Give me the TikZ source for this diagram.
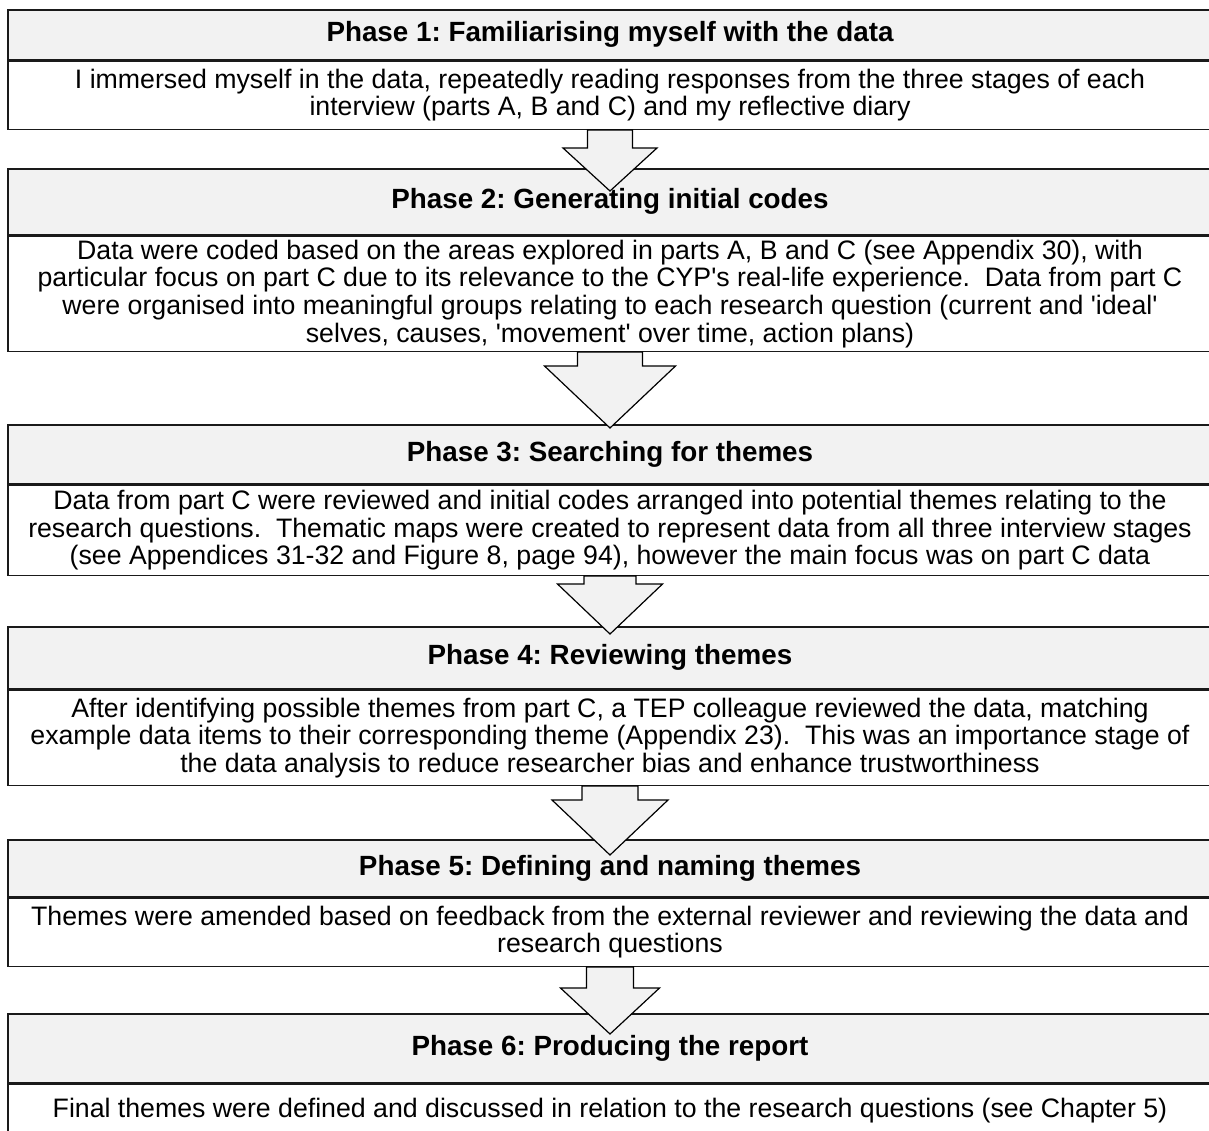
\documentclass[tikz,border=0pt]{standalone}
\usepackage{fontspec}
\newfontfamily\arialfont{Liberation Sans}
\usetikzlibrary{calc}
\definecolor{PhaseGrey}{HTML}{F2F2F2}
\definecolor{PhaseLine}{HTML}{1A1A1A}
\frenchspacing

\tikzset{
  phasehead/.style={draw=PhaseLine,line width=1.5pt,fill=PhaseGrey,anchor=north,
    minimum width=1204pt,inner sep=0pt,font=\arialfont\bfseries\fontsize{27.8}{30}\selectfont},
  phasebody/.style={draw=PhaseLine,line width=1.5pt,fill=white,anchor=north,align=center,
    minimum width=1204pt,inner sep=0pt,font=\arialfont\fontsize{26.7}{27.6}\selectfont},
  blockarrow/.style={draw=black,line width=1.2pt,fill=PhaseGrey,line join=miter}
}

% block arrow: body node, next header, shaft half width, head half width, shaft length, tip depth
\newcommand{\phasearrow}[6]{%
  \draw[blockarrow] ($(#1.south)+(-#3,0)$) -- ($(#1.south)+(-#3,#5)$)
    -- ($(#1.south)+(-#4,#5)$) -- ($(#2.north)+(0,#6)$)
    -- ($(#1.south)+(#4,#5)$) -- ($(#1.south)+(#3,#5)$)
    -- ($(#1.south)+(#3,0)$) -- cycle;}

\begin{document}
\begin{tikzpicture}[x=1pt,y=-1pt]
\useasboundingbox (0,0) rectangle (1209,1130);
\fill[white] (0,0) rectangle (1209,1130);
\clip (0,0) rectangle (1209,1130);

% phase 1
\node[phasehead,minimum height=50pt] (h1) at (610,9) {Phase 1: Familiarising myself with the data};
\node[phasebody,minimum height=68pt] (b1) at (h1.south) {I immersed myself in the data, repeatedly reading responses from the three stages of each\\
  interview (parts A, B and C) and my reflective diary};

% phase 2
\node[phasehead,minimum height=66pt] (h2) at (610,168) {Phase 2: Generating initial codes};
\node[phasebody,minimum height=115pt] (b2) at (h2.south) {Data were coded based on the areas explored in parts A, B and C (see Appendix 30), with\\
  particular focus on part C due to its relevance to the CYP's real-life experience.\ \ Data from part C\\
  were organised into meaningful groups relating to each research question (current and 'ideal'\\
  selves, causes, 'movement' over time, action plans)};

% phase 3
\node[phasehead,minimum height=59pt] (h3) at (610,424) {Phase 3: Searching for themes};
\node[phasebody,minimum height=90pt] (b3) at (h3.south) {Data from part C were reviewed and initial codes arranged into potential themes relating to the\\
  research questions.\ \ Thematic maps were created to represent data from all three interview stages\\
  (see Appendices 31-32 and Figure 8, page 94), however the main focus was on part C data};

% phase 4
\node[phasehead,minimum height=62pt] (h4) at (610,626) {Phase 4: Reviewing themes};
\node[phasebody,minimum height=95pt] (b4) at (h4.south) {After identifying possible themes from part C, a TEP colleague reviewed the data, matching\\
  example data items to their corresponding theme (Appendix 23).\ \ This was an importance stage of\\
  the data analysis to reduce researcher bias and enhance trustworthiness};

% phase 5
\node[phasehead,minimum height=57pt] (h5) at (610,839) {Phase 5: Defining and naming themes};
\node[phasebody,minimum height=68pt] (b5) at (h5.south) {Themes were amended based on feedback from the external reviewer and reviewing the data and\\
  research questions};

% phase 6
\node[phasehead,minimum height=69pt] (h6) at (610,1013) {Phase 6: Producing the report};
\node[phasebody,minimum height=52pt,anchor=north] (b6) at (h6.south) {Final themes were defined and discussed in relation to the research questions (see Chapter 5)};

% arrows
\phasearrow{b1}{h2}{22.5}{47}{18}{23}
\phasearrow{b2}{h3}{32.5}{65.5}{14}{4}
\phasearrow{b3}{h4}{26}{52.5}{8}{8}
\phasearrow{b4}{h5}{28}{58}{14}{16}
\phasearrow{b5}{h6}{23.5}{49.5}{21}{21}
\end{tikzpicture}
\end{document}
